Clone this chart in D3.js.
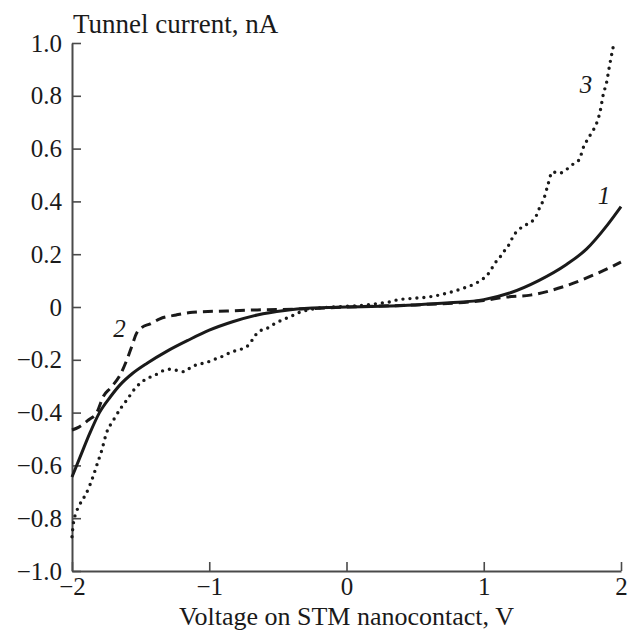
<!DOCTYPE html>
<html>
<head>
<meta charset="utf-8">
<script src="https://cdn.jsdelivr.net/npm/d3@7"></script>
<style>
  body { margin: 0; background: #fff; }
  svg { display: block; }
  svg text { font-family: "Liberation Serif", "Times New Roman", serif; }
</style>
</head>
<body>
<div class="chart"></div>
<script>
// Curve 1 (solid)
const volts1 = [-2, -1.94, -1.87, -1.8, -1.72, -1.65, -1.56, -1.45, -1.31, -1.15, -1.0, -0.83, -0.65, -0.45, -0.25, 0, 0.25, 0.5, 0.75, 1.0, 1.2, 1.4, 1.6, 1.75, 1.9, 2.0];
const current1 = [-0.644, -0.567, -0.478, -0.40, -0.34, -0.295, -0.252, -0.212, -0.168, -0.125, -0.088, -0.056, -0.03, -0.013, -0.004, 0, 0.003, 0.008, 0.016, 0.028, 0.055, 0.10, 0.16, 0.22, 0.31, 0.38];

// Curve 2 (dashed)
const volts2 = [-2, -1.95, -1.88, -1.82, -1.77, -1.72, -1.65, -1.60, -1.565, -1.53, -1.49, -1.43, -1.36, -1.24, -1.12, -0.87, -0.65, -0.3, 0, 0.5, 1.0, 1.17, 1.34, 1.58, 1.83, 2.0];
const current2 = [-0.466, -0.455, -0.428, -0.40, -0.337, -0.307, -0.258, -0.20, -0.15, -0.10, -0.077, -0.064, -0.045, -0.03, -0.02, -0.015, -0.011, -0.007, 0, 0.008, 0.025, 0.038, 0.045, 0.077, 0.128, 0.17];

// Curve 3 (dotted)
const volts3 = [-2, -1.99, -1.975, -1.955, -1.93, -1.90, -1.87, -1.845, -1.82, -1.784, -1.747, -1.70, -1.64, -1.60, -1.54, -1.49, -1.44, -1.38, -1.335, -1.286, -1.225, -1.184, -1.128, -1.08, -1.02, -0.97, -0.90, -0.836, -0.764, -0.715, -0.679, -0.643, -0.58, -0.52, -0.46, -0.41, -0.36, -0.31, -0.22, -0.1, 0.05, 0.15, 0.24, 0.32, 0.37, 0.49, 0.61, 0.73, 0.85, 0.95, 1.0, 1.045, 1.08, 1.12, 1.155, 1.19, 1.215, 1.25, 1.29, 1.35, 1.385, 1.41, 1.435, 1.466, 1.50, 1.548, 1.60, 1.648, 1.694, 1.73, 1.757, 1.79, 1.818, 1.85, 1.87, 1.896, 1.915, 1.945];
const current3 = [-0.87, -0.82, -0.785, -0.76, -0.735, -0.71, -0.675, -0.64, -0.60, -0.544, -0.475, -0.43, -0.38, -0.352, -0.308, -0.283, -0.268, -0.254, -0.241, -0.236, -0.241, -0.245, -0.226, -0.217, -0.21, -0.20, -0.186, -0.17, -0.159, -0.145, -0.119, -0.094, -0.081, -0.062, -0.047, -0.037, -0.024, -0.015, -0.005, 0, 0.004, 0.008, 0.014, 0.02, 0.027, 0.033, 0.039, 0.052, 0.071, 0.092, 0.109, 0.134, 0.165, 0.19, 0.216, 0.241, 0.269, 0.29, 0.307, 0.323, 0.348, 0.38, 0.405, 0.46, 0.512, 0.506, 0.52, 0.54, 0.557, 0.61, 0.635, 0.664, 0.69, 0.746, 0.803, 0.853, 0.91, 0.99];

const xTicks = [-2, -1, 0, 1, 2];
const yTicks = [-1.0, -0.8, -0.6, -0.4, -0.2, 0, 0.2, 0.4, 0.6, 0.8, 1.0];

// curve number labels: [text, voltage, current]
const curveLabels = [["1", 1.83, 0.39], ["2", -1.70, -0.114], ["3", 1.70, 0.81]];

const width = 628, height = 630;
const margin = { top: 43, right: 7, bottom: 59, left: 72 };
const serif = '"Liberation Serif", "Times New Roman", serif';

const svg = d3.select(".chart").append("svg")
  .attr("width", width)
  .attr("height", height);

const x = d3.scaleLinear().domain([-2, 2]).range([margin.left, width - margin.right]);
const y = d3.scaleLinear().domain([-1, 1]).range([height - margin.bottom, margin.top]);

const fmtY = d => d === 0 ? "0" : d3.format(".1f")(d).replace("-", "\u2212");
const fmtX = d => String(d).replace("-", "\u2212");

// axes
const axisColor = "#4a4a4a";
const gx = svg.append("g")
  .attr("transform", `translate(0,${y(-1)})`)
  .call(d3.axisBottom(x).tickValues(xTicks).tickSize(-9).tickSizeOuter(0).tickPadding(6.5).tickFormat(fmtX));
const gy = svg.append("g")
  .attr("transform", `translate(${x(-2)},0)`)
  .call(d3.axisLeft(y).tickValues(yTicks).tickSize(-9).tickSizeOuter(0).tickPadding(10).tickFormat(fmtY));

[gx, gy].forEach(g => {
  g.attr("font-family", null).attr("font-size", null);
  g.select(".domain").attr("stroke", axisColor).attr("stroke-width", 2);
  g.selectAll(".tick line").attr("stroke", axisColor).attr("stroke-width", 1.6);
  g.selectAll(".tick text")
    .attr("fill", "#1a1a1a")
    .style("font-family", serif)
    .style("font-size", "25px");
});

// axis titles
svg.append("text")
  .attr("x", margin.left + 1)
  .attr("y", 33)
  .style("font-size", "27px")
  .attr("fill", "#1a1a1a")
  .text("Tunnel current, nA");

svg.append("text")
  .attr("x", x(0))
  .attr("y", 624.5)
  .attr("text-anchor", "middle")
  .style("font-size", "26px")
  .attr("fill", "#1a1a1a")
  .text("Voltage on STM nanocontact, V");

// curves
const line = d3.line()
  .x(d => x(d[0]))
  .y(d => y(d[1]))
  .curve(d3.curveMonotoneX);

const series = [
  { v: volts1, i: current1, dash: null, width: 3, cap: "butt" },
  { v: volts2, i: current2, dash: "10 6", width: 3, cap: "butt" },
  { v: volts3, i: current3, dash: "0 7", width: 3.4, cap: "round" }
];

svg.append("g")
  .attr("fill", "none")
  .attr("stroke", "#1a1a1a")
  .selectAll("path")
  .data(series)
  .join("path")
  .attr("d", s => line(d3.zip(s.v, s.i)))
  .attr("stroke-width", s => s.width)
  .attr("stroke-linecap", s => s.cap)
  .attr("stroke-dasharray", s => s.dash);

// curve numbers
svg.append("g")
  .selectAll("text")
  .data(curveLabels)
  .join("text")
  .attr("x", d => x(d[1]))
  .attr("y", d => y(d[2]))
  .style("font-size", "25px")
  .style("font-style", "italic")
  .attr("fill", "#1a1a1a")
  .text(d => d[0]);
</script>
</body>
</html>
